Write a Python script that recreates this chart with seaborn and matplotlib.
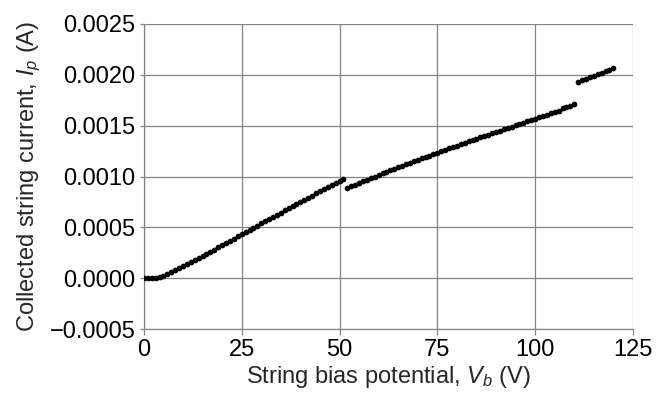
import numpy as np
import pandas as pd
import matplotlib
matplotlib.use('Agg')
import matplotlib.pyplot as plt
import seaborn as sns
from matplotlib.ticker import FuncFormatter

# data: string bias (V) and collected current (A)
bias_1 = list(range(0, 52))
current_1 = [0.0, 0.0, -0.000001, 0.0, 0.000010, 0.000025, 0.000043, 0.000062,
             0.000081, 0.000100, 0.000120, 0.000139, 0.000159, 0.000179, 0.000199,
             0.000220, 0.000241, 0.000262, 0.000283, 0.000304, 0.000325, 0.000346,
             0.000368, 0.000389, 0.000411, 0.000432, 0.000454, 0.000475, 0.000497,
             0.000518, 0.000540, 0.000561, 0.000583, 0.000604, 0.000625, 0.000646,
             0.000667, 0.000688, 0.000709, 0.000730, 0.000751, 0.000772, 0.000792,
             0.000813, 0.000834, 0.000855, 0.000876, 0.000897, 0.000918, 0.000939,
             0.000959, 0.000980]

bias_2 = list(range(52, 111))
current_2 = [0.000888, 0.000905, 0.000921, 0.000937, 0.000953, 0.000969, 0.000985,
             0.001000, 0.001016, 0.001031, 0.001046, 0.001061, 0.001076, 0.001091,
             0.001106, 0.001120, 0.001135, 0.001149, 0.001164, 0.001178, 0.001192,
             0.001206, 0.001220, 0.001234, 0.001248, 0.001262, 0.001276, 0.001290,
             0.001304, 0.001317, 0.001331, 0.001345, 0.001358, 0.001372, 0.001385,
             0.001399, 0.001412, 0.001425, 0.001439, 0.001452, 0.001465, 0.001478,
             0.001491, 0.001504, 0.001517, 0.001530, 0.001543, 0.001556, 0.001569,
             0.001582, 0.001594, 0.001607, 0.001620, 0.001632, 0.001645, 0.001672,
             0.001684, 0.001697, 0.001712]

bias_3 = list(range(111, 121))
current_3 = [0.001930, 0.001946, 0.001961, 0.001976, 0.001991, 0.002006, 0.002021,
             0.002036, 0.002051, 0.002066]

x_ticks = [0, 25, 50, 75, 100, 125]
y_ticks = [-0.0005, 0.0, 0.0005, 0.0010, 0.0015, 0.0020, 0.0025]

df = pd.DataFrame({'bias': bias_1 + bias_2 + bias_3,
                   'current': current_1 + current_2 + current_3})

sns.set_theme(style='white')
plt.rcParams['font.family'] = ['Liberation Sans', 'DejaVu Sans']
plt.rcParams['mathtext.fontset'] = 'custom'
plt.rcParams['mathtext.rm'] = 'Liberation Sans'
plt.rcParams['mathtext.it'] = 'Liberation Sans:italic'

grid_col = '#858585'

fig = plt.figure(figsize=(6.6, 3.99), dpi=100)
ax = fig.add_axes([0.218, 0.175, 0.741, 0.765])

sns.scatterplot(data=df, x='bias', y='current', color='black', s=17,
                linewidth=0, ax=ax, zorder=3)

ax.set_xlim(0, 125)
ax.set_ylim(-0.0005, 0.0025)
ax.set_xticks(x_ticks)
ax.set_yticks(y_ticks)
ax.yaxis.set_major_formatter(FuncFormatter(
    lambda v, p: f'{v:.4f}'.replace('-', '\u2212')))

ax.grid(True, color=grid_col, linewidth=0.9)
for side in ['top', 'right']:
    ax.spines[side].set_visible(False)
for side in ['left', 'bottom']:
    ax.spines[side].set_color(grid_col)
    ax.spines[side].set_linewidth(0.9)

ax.tick_params(axis='both', labelsize=17, colors='black', direction='out')
ax.tick_params(axis='x', length=4, width=0.9, color=grid_col, pad=3, bottom=True)
ax.tick_params(axis='y', length=3, width=0.9, color=grid_col, pad=3, left=True)

ax.set_xlabel(r'String bias potential, $V_b$ (V)', fontsize=17, labelpad=2)
ax.set_ylabel(r'Collected string current, $I_p$ (A)', fontsize=17, labelpad=5)

fig.savefig('out.png', dpi=100)
